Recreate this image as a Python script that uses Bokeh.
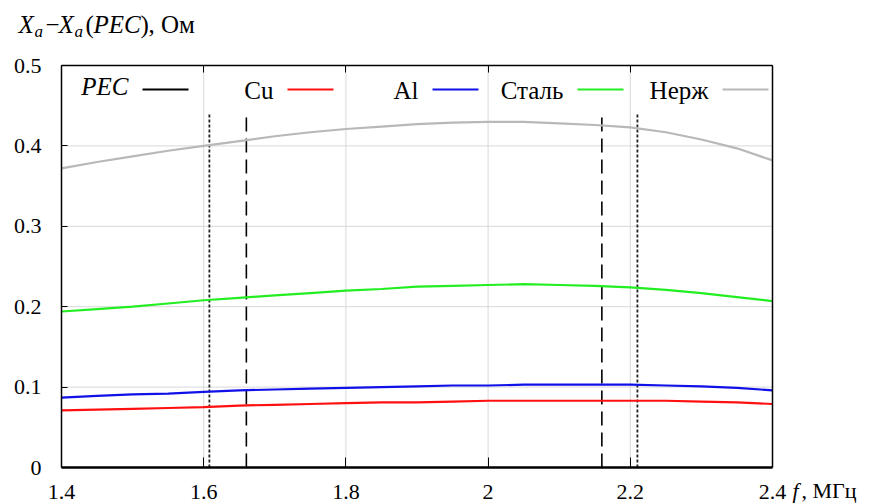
from bokeh.plotting import figure
from bokeh.models import Range1d, LinearAxis, Label, FixedTicker
from bokeh.embed import file_html
from bokeh.resources import INLINE

# ---- data ----
freq = [1.40, 1.45, 1.50, 1.55, 1.60, 1.65, 1.70, 1.75, 1.80, 1.85, 1.90,
        1.95, 2.00, 2.05, 2.10, 2.15, 2.20, 2.25, 2.30, 2.35, 2.40]
cu = [.071, .072, .073, .074, .075, .077, .078, .079, .080, .081, .081,
      .082, .083, .083, .083, .083, .083, .083, .082, .081, .079]
al = [.087, .089, .091, .092, .094, .096, .097, .098, .099, .100, .101,
      .102, .102, .103, .103, .103, .103, .102, .101, .099, .096]
steel = [.194, .197, .200, .204, .208, .211, .214, .217, .220, .222, .225,
         .226, .227, .228, .227, .226, .224, .221, .217, .212, .207]
stainless = [.372, .380, .387, .394, .400, .406, .412, .417, .421, .424, .427,
             .429, .430, .430, .428, .426, .423, .417, .408, .397, .382]
dotted_lines = [1.608, 2.21]
dashed_lines = [1.66, 2.16]
x_ticks = [1.4, 1.6, 1.8, 2.0, 2.2, 2.4]
x_tick_labels = ["1.4", "1.6", "1.8", "2", "2.2", "2.4"]
y_ticks = [0, 0.1, 0.2, 0.3, 0.4, 0.5]
y_tick_labels = ["0", "0.1", "0.2", "0.3", "0.4", "0.5"]
legend_names = ["PEC", "Cu", "Al", "Сталь", "Нерж"]

COLORS = ["#000000", "#ff1010", "#1010e8", "#22ee22", "#b8b8b8"]
FONT = "'Liberation Serif', 'Times New Roman', serif"

# ---- geometry ----
W, H = 871, 503
X0, X1, Y0, Y1 = x_ticks[0], x_ticks[-1], y_ticks[0], y_ticks[-1]
FX0, FX1, FY0, FY1 = 61, 772, 65, 467          # plot box in page pixels
SX = (X1 - X0) / (FX1 - FX0)
SY = (Y1 - Y0) / (FY1 - FY0)
def dx(px):
    return X0 + (px - FX0) * SX
def dy(py):
    return Y0 + (FY1 - py) * SY

p = figure(width=W, height=H, min_border=0,
           x_range=Range1d(dx(0), dx(W)), y_range=Range1d(dy(H), dy(0)),
           x_axis_type=None, y_axis_type=None,
           output_backend="svg", toolbar_location=None)
p.background_fill_color = "white"
p.border_fill_color = "white"
p.outline_line_color = None

# grid lines at the inner ticks
p.segment(x0=x_ticks[1:-1], x1=x_ticks[1:-1], y0=[Y0] * 4, y1=[Y1] * 4,
          line_color="#d8d8d8", line_width=1)
p.segment(x0=[X0] * 4, x1=[X1] * 4, y0=y_ticks[1:-1], y1=y_ticks[1:-1],
          line_color="#d8d8d8", line_width=1)


def make_axis(ticks, loc, bounds, tick_in, width):
    return LinearAxis(fixed_location=loc, bounds=bounds,
                      ticker=FixedTicker(ticks=ticks),
                      major_label_overrides={t: "" for t in ticks},
                      major_label_text_font_size="0px",
                      major_tick_in=tick_in, major_tick_out=0,
                      minor_tick_line_color=None,
                      major_tick_line_color="black" if tick_in else None,
                      axis_line_color="black", axis_line_width=width)


p.add_layout(make_axis(x_ticks, Y0, (X0, X1), 10, 2.5), "below")
p.add_layout(make_axis(x_ticks, Y1, (X0, X1), 7, 1.5), "above")
p.add_layout(make_axis(y_ticks, X0, (Y0, Y1), 6, 1.5), "left")
p.add_layout(make_axis(y_ticks, X1, (Y0, Y1), 0, 1.5), "right")

# tick labels
for t, lab in zip(x_ticks, x_tick_labels):
    p.add_layout(Label(x=t, y=Y0, y_offset=-24, text=lab, text_align="center",
                       text_baseline="middle", text_font=FONT,
                       text_font_size="22px", text_color="black"))
for t, lab in zip(y_ticks, y_tick_labels):
    p.add_layout(Label(x=X0, y=t, x_offset=-20, text=lab, text_align="right",
                       text_baseline="middle", text_font=FONT,
                       text_font_size="22px", text_color="black"))

# vertical markers
p.segment(x0=dotted_lines, x1=dotted_lines, y0=[Y0] * 2, y1=[dy(112)] * 2,
          line_color="#222222", line_width=1.8, line_dash="3 2")
p.segment(x0=dashed_lines, x1=dashed_lines, y0=[Y0] * 2, y1=[dy(112)] * 2,
          line_color="black", line_width=1.6, line_dash="14 7")

# curves
for ys, c in zip([cu, al, steel, stainless], COLORS[1:]):
    p.line(freq, ys, line_color=c, line_width=2.2)


def plabel(text, px, py, size, style="normal", align="left"):
    # py is the vertical centre of the text in page pixels
    p.add_layout(Label(x=dx(px), y=dy(py), text=text, text_align=align,
                       text_baseline="middle", text_font=FONT,
                       text_font_size=size, text_font_style=style,
                       text_color="black"))


# legend (label followed by a sample line)
for i, (name, c) in enumerate(zip(legend_names, COLORS)):
    lx0 = 142 + 145 * i
    p.segment(x0=[dx(lx0)], x1=[dx(lx0 + 46)], y0=[dy(89)], y1=[dy(89)],
              line_color=c, line_width=2.2)
    pec = name == "PEC"
    plabel(name, lx0 - 14, 86 if pec else 90, "25px", "italic" if pec else "normal", "right")

# y-axis title: X_a − X_a(PEC), Ом
for txt, px, py, st, sz in [("X", 18, 24, "italic", "25px"), ("a", 34, 31, "italic", "17px"),
                            ("−", 45, 24, "normal", "25px"), ("X", 58, 24, "italic", "25px"),
                            ("a", 74, 31, "italic", "17px"), ("(", 85, 24, "normal", "25px"),
                            ("PEC", 93, 24, "italic", "25px"), (")", 140, 24, "normal", "25px"),
                            (", Ом", 148, 24, "normal", "25px")]:
    plabel(txt, px, py, sz, st)

# x-axis title: f, МГц
plabel("f", 792, 490, "22px", "italic")
plabel(", МГц", 801, 490, "22px")

open("out.html", "w").write(file_html(p, INLINE))
